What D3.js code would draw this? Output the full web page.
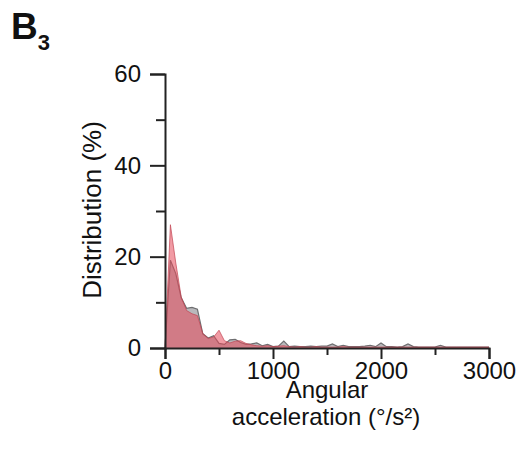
<!DOCTYPE html>
<html>
<head>
  <title>Angular acceleration distribution</title>
  <script src="https://d3js.org/d3.v7.min.js"></script>
  <style>
    body { margin: 0; background: #fff; }
    text { font-family: "Liberation Sans", Arial, sans-serif; fill: #111; }
  </style>
</head>
<body>
<div id="chart"></div>
<script>
// bins (°/s²)
var bins = [0, 50, 100, 150, 200, 250, 300, 350, 400, 450,
  500, 550, 600, 650, 700, 750, 800, 850, 900, 950,
  1000, 1050, 1100, 1150, 1200, 1250, 1300, 1350, 1400, 1450,
  1500, 1550, 1600, 1650, 1700, 1750, 1800, 1850, 1900, 1950,
  2000, 2050, 2100, 2150, 2200, 2250, 2300, 2350, 2400, 2450,
  2500, 2550, 2600, 2650, 2700, 2750, 2800, 2850, 2900, 2950, 3000];

// gray series (%)
var grayValues = [0, 19.2, 16.3, 11.0, 8.7, 8.9, 8.5, 3.1, 2.2, 2.7,
  1.0, 0.8, 1.8, 1.9, 1.2, 0.8, 0.9, 1.1, 0.5, 0.8,
  0.3, 0.4, 1.5, 0.3, 0.4, 0.3, 0.3, 0.4, 0.3, 0.4,
  0.4, 0.9, 0.3, 0.6, 0.3, 0.3, 0.3, 0.4, 0.6, 0.3,
  1.1, 0.3, 0.3, 0.2, 0.3, 0.9, 0.3, 0.2, 0.2, 0.2,
  0.2, 0.6, 0.2, 0.2, 0.2, 0.2, 0.2, 0.2, 0.2, 0.2, 0.2];

// red series (%)
var redValues = [0, 27.0, 18.6, 11.2, 8.2, 7.5, 7.1, 3.2, 2.1, 2.4,
  3.9, 1.6, 1.1, 1.5, 1.6, 1.0, 0.7, 0.5, 0.4, 0.5,
  0.3, 0.4, 0.5, 0.3, 0.2, 0.3, 0.2, 0.2, 0.3, 0.2,
  0.2, 0.2, 0.2, 0.3, 0.2, 0.2, 0.2, 0.2, 0.2, 0.2,
  0.2, 0.2, 0.2, 0.2, 0.2, 0.2, 0.2, 0.2, 0.2, 0.2,
  0.2, 0.2, 0.2, 0.2, 0.2, 0.2, 0.2, 0.2, 0.2, 0.2, 0.2];

var xMajor = [0, 1000, 2000, 3000];
var xMinor = [500, 1500, 2500];
var yMajor = [0, 20, 40, 60];
var yMinor = [10, 30, 50];

var width = 520, height = 463;

var svg = d3.select("#chart").append("svg")
  .attr("width", width)
  .attr("height", height);

var x = d3.scaleLinear().domain([0, 3000]).range([165, 489]);
var y = d3.scaleLinear().domain([0, 60]).range([348, 74]);

var grayData = bins.map(function(b, i) { return { x: b, v: grayValues[i] }; });
var redData = bins.map(function(b, i) { return { x: b, v: redValues[i] }; });

var area = d3.area()
  .x(function(d) { return x(d.x); })
  .y0(y(0))
  .y1(function(d) { return y(d.v); });

var line = d3.line()
  .x(function(d) { return x(d.x); })
  .y(function(d) { return y(d.v); });

// gray distribution
svg.append("path")
  .datum(grayData)
  .attr("fill", "#b9b9bc")
  .attr("d", area);
svg.append("path")
  .datum(grayData)
  .attr("fill", "none")
  .attr("stroke", "#6e6e70")
  .attr("stroke-width", 1.2)
  .attr("d", line);

// red distribution on top, semi transparent
svg.append("path")
  .datum(redData)
  .attr("fill", "#e5485a")
  .attr("fill-opacity", 0.55)
  .attr("d", area);
svg.append("path")
  .datum(redData)
  .attr("fill", "none")
  .attr("stroke", "#c24452")
  .attr("stroke-opacity", 0.7)
  .attr("stroke-width", 1)
  .attr("d", line);

// axes
var xAxis = d3.axisBottom(x).tickValues(xMajor).tickSize(11).tickPadding(3)
  .tickFormat(d3.format("d"));
svg.append("g")
  .attr("transform", "translate(0," + y(0) + ")")
  .call(xAxis);
svg.append("g")
  .attr("transform", "translate(0," + y(0) + ")")
  .call(d3.axisBottom(x).tickValues(xMinor).tickSize(7).tickFormat(""))
  .select(".domain").remove();

var yAxis = d3.axisLeft(y).tickValues(yMajor).tickSize(15).tickPadding(9);
svg.append("g")
  .attr("transform", "translate(" + x(0) + ",0)")
  .call(yAxis);
svg.append("g")
  .attr("transform", "translate(" + x(0) + ",0)")
  .call(d3.axisLeft(y).tickValues(yMinor).tickSize(9).tickFormat(""))
  .select(".domain").remove();

svg.selectAll(".domain").attr("stroke", "#222").attr("stroke-width", 2);
svg.selectAll(".tick line").attr("stroke", "#222").attr("stroke-width", 2);
svg.selectAll(".tick text")
  .style("font-size", "24px")
  .style("font-family", "'Liberation Sans', Arial, sans-serif")
  .attr("fill", "#111");

// axis titles
svg.append("text")
  .attr("transform", "translate(101,210) rotate(-90)")
  .attr("text-anchor", "middle")
  .style("font-size", "26px")
  .text("Distribution (%)");

svg.append("text")
  .attr("x", 327).attr("y", 398)
  .attr("text-anchor", "middle")
  .style("font-size", "24px")
  .text("Angular");
svg.append("text")
  .attr("x", 326).attr("y", 425)
  .attr("text-anchor", "middle")
  .style("font-size", "24px")
  .text("acceleration (°/s²)");

// panel label
var lab = svg.append("text")
  .attr("x", 11).attr("y", 39)
  .style("font-size", "37px")
  .style("font-weight", "bold");
lab.append("tspan").text("B");
lab.append("tspan").attr("dy", 11).style("font-size", "22px").text("3");
</script>
</body>
</html>
